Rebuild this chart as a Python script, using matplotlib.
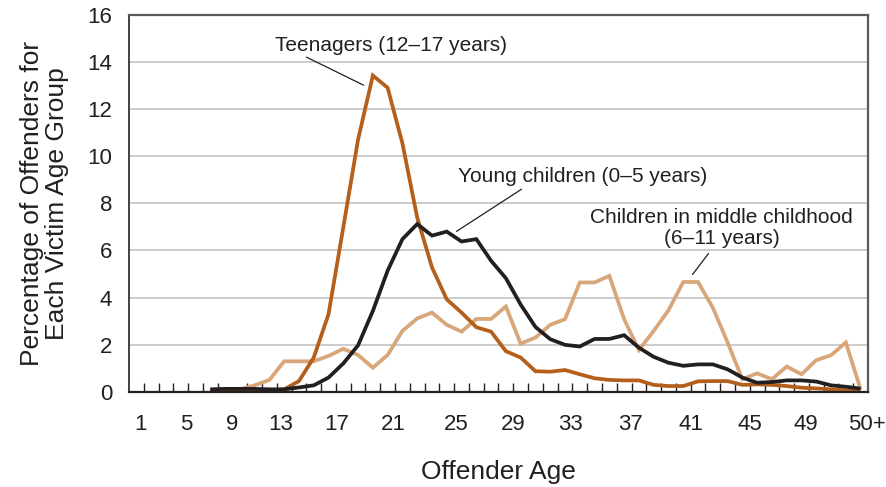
import numpy as np
import matplotlib
matplotlib.use("Agg")
import matplotlib.pyplot as plt

plt.rcParams['font.family'] = ['Liberation Sans', 'DejaVu Sans']

# offender ages 1..49 and 50+ (category axis); values start at age 6
ages = list(range(1, 51))
first_age = 6

young = [0.1, 0.12, 0.12, 0.12, 0.1, 0.1, 0.18, 0.27, 0.6, 1.2,
         1.97, 3.43, 5.14, 6.48, 7.12, 6.63, 6.8, 6.38, 6.48, 5.56,
         4.82, 3.7, 2.75, 2.23, 1.99, 1.92, 2.24, 2.24, 2.4, 1.87,
         1.48, 1.23, 1.1, 1.16, 1.16, 0.95, 0.6, 0.38, 0.41, 0.48,
         0.48, 0.43, 0.27, 0.21, 0.13]
teen = [0.05, 0.05, 0.05, 0.05, 0.05, 0.1, 0.45, 1.45, 3.29, 6.98,
        10.71, 13.43, 12.91, 10.55, 7.4, 5.28, 3.92, 3.36, 2.74, 2.55,
        1.72, 1.45, 0.87, 0.85, 0.92, 0.74, 0.57, 0.5, 0.48, 0.48,
        0.29, 0.24, 0.24, 0.44, 0.45, 0.45, 0.29, 0.31, 0.29, 0.24,
        0.17, 0.14, 0.1, 0.06, 0.03]
middle = [0.05, 0.08, 0.1, 0.27, 0.5, 1.29, 1.29, 1.29, 1.52, 1.82,
          1.56, 1.02, 1.56, 2.58, 3.11, 3.36, 2.84, 2.55, 3.09, 3.09,
          3.62, 2.04, 2.3, 2.84, 3.08, 4.64, 4.64, 4.92, 3.08, 1.77,
          2.58, 3.46, 4.66, 4.66, 3.57, 2.09, 0.53, 0.78, 0.53, 1.07,
          0.74, 1.34, 1.55, 2.09, 0.1]

tick_labels = ["1", "5", "9", "13", "17", "21", "25", "29", "33", "37",
               "41", "45", "49", "50+"]
# label positions as they sit in the original (not evenly spaced)
tick_pos = [1.28, 4.39, 7.5, 10.75, 14.54, 18.4, 22.66, 26.51, 30.37,
            34.43, 38.49, 42.48, 46.27, 50.4]

BROWN = "#b4601c"
TAN = "#d8a679"
BLACK = "#231f20"

fig = plt.figure(figsize=(8.87, 4.87), dpi=100)
ax = fig.add_axes([0.1454, 0.1957, 0.9786 - 0.1454, 0.9692 - 0.1957])

x = np.arange(first_age, first_age + len(young))
kw = dict(lw=2.7, solid_joinstyle='miter', solid_capstyle='butt')
ax.plot(x, middle, color=TAN, **kw)
ax.plot(x, teen, color=BROWN, **kw)
ax.plot(x, young, color=BLACK, **kw)

ax.set_xlim(0.5, len(ages) + 0.5)
ax.set_ylim(0, 16)
ax.set_yticks(range(0, 17, 2))
ax.yaxis.grid(True, color="#c4c4c4", lw=1.2)
ax.set_axisbelow(True)
ax.tick_params(axis='y', length=0, pad=12, labelsize=16, labelcolor=BLACK)

ax.set_xticks(tick_pos)
ax.set_xticklabels(tick_labels)
ax.set_xticks([a + 0.5 for a in ages[:-1]], minor=True)
ax.tick_params(axis='x', which='major', length=0, pad=16, labelsize=16,
               labelcolor=BLACK)
ax.tick_params(axis='x', which='minor', direction='in', length=6.5,
               width=1.0, color=BLACK)

for s in ['top', 'right']:
    ax.spines[s].set_color("#5a5a5a")
    ax.spines[s].set_linewidth(1.6)
ax.spines['left'].set_color(BLACK)
ax.spines['left'].set_linewidth(1.2)
ax.spines['bottom'].set_color(BLACK)
ax.spines['bottom'].set_linewidth(1.6)

ax.set_xlabel("Offender Age", fontsize=19, color=BLACK, labelpad=18)
ax.set_ylabel("Percentage of Offenders for\nEach Victim Age Group",
              fontsize=19, color=BLACK, labelpad=13, linespacing=1.05)

lead = dict(arrowstyle='-', color=BLACK, lw=0.9, shrinkA=0, shrinkB=0)
ax.annotate("", xy=(16.37, 13.02), xytext=(12.51, 14.21), arrowprops=lead)
ax.text(18.26, 14.7, "Teenagers (12\u201317 years)", fontsize=15,
        color=BLACK, ha='center', va='center')

ax.annotate("", xy=(22.66, 6.81), xytext=(27.06, 8.6), arrowprops=lead)
ax.text(31.18, 9.15, "Young children (0\u20135 years)", fontsize=15,
        color=BLACK, ha='center', va='center')

ax.annotate("", xy=(38.63, 4.98), xytext=(39.71, 5.87), arrowprops=lead)
ax.text(40.6, 6.96, "Children in middle childhood\n(6\u201311 years)",
        fontsize=15, color=BLACK, ha='center', va='center',
        multialignment='center', linespacing=1.15)

fig.savefig("out.png", dpi=100)
